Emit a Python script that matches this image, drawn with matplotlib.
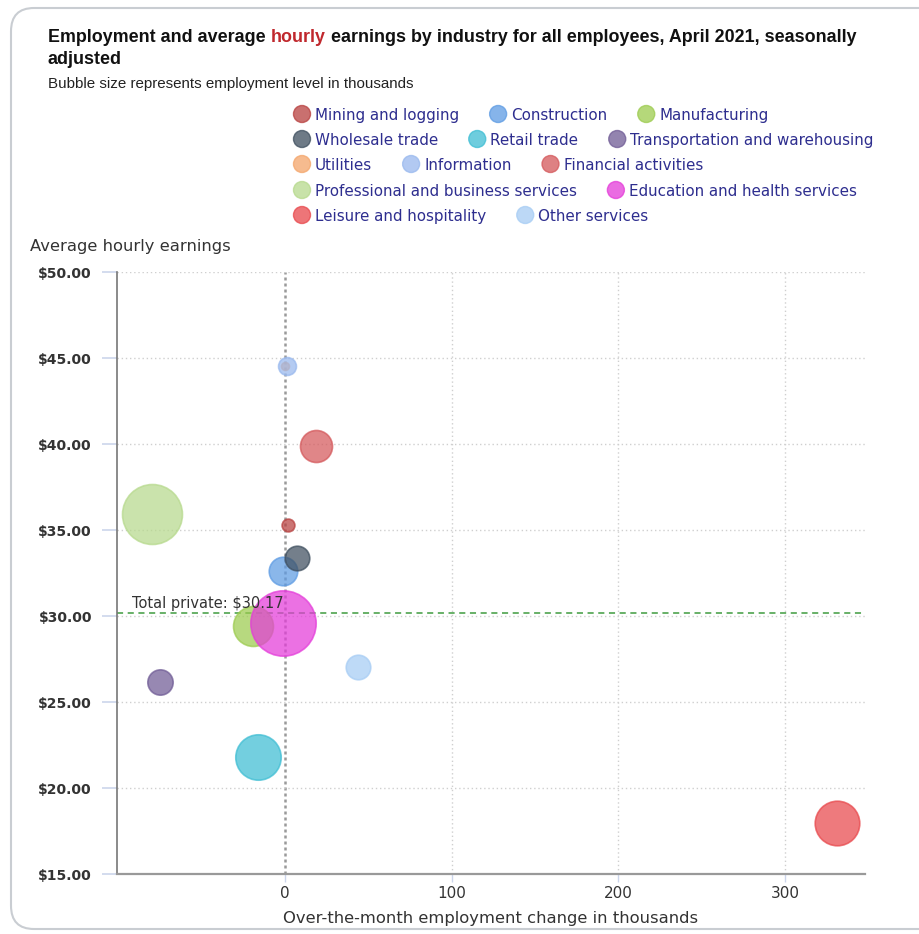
import numpy as np
import matplotlib.pyplot as plt
from matplotlib.patches import FancyBboxPatch, Circle

# industries in series order (draw order matters for overlaps)
industries = ['Mining and logging', 'Construction', 'Manufacturing',
              'Wholesale trade', 'Retail trade', 'Transportation and warehousing',
              'Utilities', 'Information', 'Financial activities',
              'Professional and business services', 'Education and health services',
              'Leisure and hospitality', 'Other services']
# over-the-month employment change, thousands
emp_change = [1.6, -1.0, -19.0, 7.0, -16.0, -75.0, 0.3, 1.0, 18.6, -79.6, -1.4, 331.0, 43.6]
# average hourly earnings, dollars
hourly = [35.31, 32.60, 29.40, 33.37, 21.81, 26.15, 44.55, 44.54, 39.86, 35.93, 29.60, 17.94, 27.05]
# employment level, thousands (bubble size)
employment = [900, 4450, 8700, 3300, 11250, 3500, 350, 1750, 5600, 19600, 23300, 10850, 3300]
colors = ['#b8403f', '#5d9be3', '#9ccb4e', '#3e4e5e', '#3dbdd3', '#6f5b95',
          '#f4a56a', '#98b8ee', '#d4575a', '#b6d98c', '#e43bd9', '#e8474b', '#a6ccf4']
legend_rows = [3, 3, 3, 2, 2]
total_private = 30.17
x_ticks = [0, 100, 200, 300]
y_ticks = [15, 20, 25, 30, 35, 40, 45, 50]

W, H = 920, 934
fig = plt.figure(figsize=(W / 100, H / 100), dpi=100)

def fx(px):
    return px / W

def fy(py):
    return 1 - py / H

# rounded panel border
border = FancyBboxPatch((fx(11), fy(929)), fx(960) - fx(11), fy(8) - fy(929),
                        boxstyle='round,pad=0,rounding_size=0.025',
                        transform=fig.transFigure, facecolor='none',
                        edgecolor='#c9cdd2', linewidth=1.5, zorder=-1)
fig.patches.append(border)

renderer = fig.canvas.get_renderer()

# title with red "hourly"
title_parts = [('Employment and average ', '#111111'), ('hourly', '#c0282d'),
               (' earnings by industry for all employees, April 2021, seasonally', '#111111')]
x = 48
for txt, col in title_parts:
    t = fig.text(fx(x), fy(38), txt, color=col, fontsize=12.85, fontweight='bold',
                 family='Liberation Sans', va='center', ha='left')
    x += t.get_window_extent(renderer).width
fig.text(fx(48), fy(59), 'adjusted', color='#111111', fontsize=12.85, fontweight='bold',
         family='Liberation Sans', va='center', ha='left')
fig.text(fx(48), fy(84), 'Bubble size represents employment level in thousands',
         color='#222222', fontsize=10.9, family='Liberation Sans', va='center', ha='left')

# legend, flowed row by row
row_y = [114, 139, 164, 190, 215]
i = 0
for r, n in enumerate(legend_rows):
    x = 302
    for k in range(n):
        c = Circle((x / 100, (H - row_y[r]) / 100), radius=0.085,
                   transform=fig.dpi_scale_trans, facecolor=colors[i], alpha=0.75,
                   edgecolor=colors[i], linewidth=1)
        fig.patches.append(c)
        t = fig.text(fx(x + 13), fy(row_y[r]), industries[i], color='#2e2e8f',
                     fontsize=10.9, family='DejaVu Sans', va='center_baseline', ha='left')
        x = x + 13 + t.get_window_extent(renderer).width + 39
        i += 1

# plot area
ax = fig.add_axes([fx(117), fy(874), fx(865) - fx(117), fy(272) - fy(874)])
ax.set_xlim(-100.8, 348)
ax.set_ylim(15, 50)

sizes = np.array(employment) * 0.0951
for j in range(len(industries)):
    ax.scatter(emp_change[j], hourly[j], s=sizes[j], color=colors[j], alpha=0.72,
               edgecolors=colors[j], linewidths=1.2, zorder=3)

ax.axhline(total_private, color='#3f9b3f', linestyle=(0, (4, 3)), linewidth=1.1, zorder=2)
ax.text(-92, total_private + 0.12, 'Total private: $30.17', color='#333333',
        fontsize=10.5, family='DejaVu Sans', va='bottom', ha='left', zorder=4)

ax.axvline(0, color='#9a9a9a', linestyle=(0, (1.2, 1.2)), linewidth=1.8, zorder=1)
for v in x_ticks[1:]:
    ax.axvline(v, color='#cfcfcf', linestyle=(0, (1, 2)), linewidth=1, zorder=1)
for v in y_ticks[1:]:
    ax.axhline(v, color='#cfcfcf', linestyle=(0, (1, 2)), linewidth=1, zorder=1)

ax.set_xticks(x_ticks)
ax.set_xticklabels([str(v) for v in x_ticks], fontsize=11, color='#333333', family='DejaVu Sans')
ax.set_yticks(y_ticks)
ax.set_yticklabels(['$%.2f' % v for v in y_ticks], fontsize=10, color='#333333',
                   fontweight='bold', family='DejaVu Sans')
ax.tick_params(axis='y', length=11, color='#ccd6eb', width=1.2, pad=7)
ax.tick_params(axis='x', length=6, color='#ccd6eb', width=1, pad=3)

for s in ['top', 'right']:
    ax.spines[s].set_visible(False)
ax.spines['left'].set_color('#777777')
ax.spines['left'].set_linewidth(1.2)
ax.spines['bottom'].set_color('#999999')
ax.spines['bottom'].set_linewidth(1.6)

fig.text(fx(30), fy(247), 'Average hourly earnings', color='#333333', fontsize=11.8,
         family='DejaVu Sans', va='center', ha='left')
fig.text(fx(491), fy(918), 'Over-the-month employment change in thousands', color='#333333',
         fontsize=11.8, family='DejaVu Sans', va='center', ha='center')

fig.savefig('out.png', dpi=100)
